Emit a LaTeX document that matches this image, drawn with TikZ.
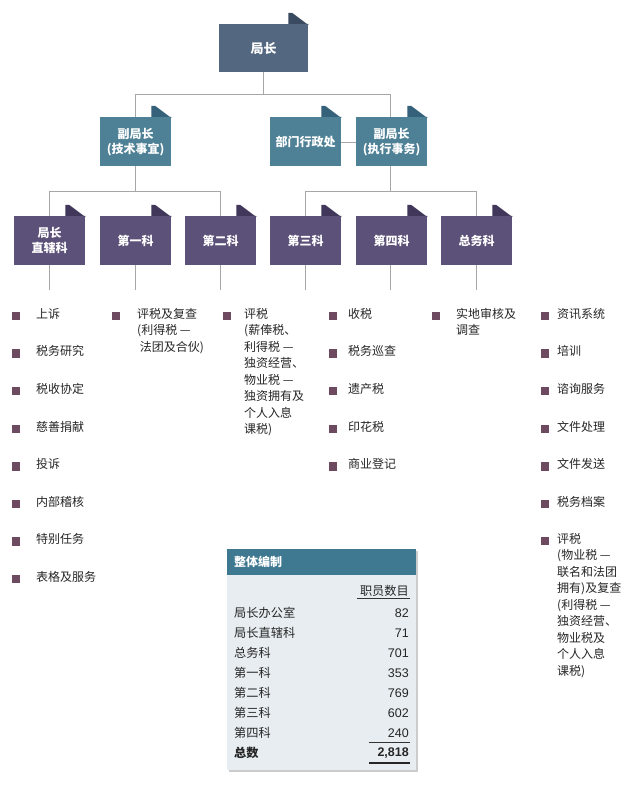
\documentclass[tikz,border=0pt]{standalone}
\usepackage{fontspec}
\setmainfont{Noto Sans CJK SC}
\newfontfamily\numfont{Liberation Sans}
\begin{document}
\begin{tikzpicture}[x=1pt,y=-1pt,
  ln/.style={draw=black!35,line width=0.8pt},
  bx/.style={minimum width=71pt,minimum height=49pt,inner sep=0pt,text=white,align=center,font=\bfseries\fontsize{12}{15}\selectfont,anchor=north west},
  topbx/.style={bx,fill=topc,minimum width=89pt,minimum height=48pt},
  tealbx/.style={bx,fill=tealc},
  purbx/.style={bx,fill=purc},
  bul/.style={fill=bulc,minimum size=8.5pt,inner sep=0pt},
  itm/.style={anchor=north west,inner sep=0pt,align=left,font=\fontsize{12}{16.5}\selectfont,text=black!85},
  tb/.style={anchor=west,inner sep=0pt,font=\fontsize{12.2}{14}\selectfont,text=black!85},
  tn/.style={anchor=east,inner sep=0pt,font=\numfont\fontsize{12.5}{14}\selectfont,text=black!85}]
\definecolor{topc}{HTML}{536780}
\definecolor{topf}{HTML}{3A4A60}
\definecolor{tealc}{HTML}{4F8196}
\definecolor{tealf}{HTML}{35627A}
\definecolor{purc}{HTML}{5C5179}
\definecolor{purf}{HTML}{40375A}
\definecolor{bulc}{HTML}{6E4A60}
\definecolor{hdc}{HTML}{3F7891}
\definecolor{tbg}{HTML}{E7EDF1}
\useasboundingbox (0,0) rectangle (639,786);
\fill[white] (0,0) rectangle (639,786);
% connectors
\draw[ln] (263.5,72) -- (263.5,94);
\draw[ln] (135,117) |- (390,94) -- (390,117);
\draw[ln] (135,166) -- (135,191);
\draw[ln] (49,216) |- (220,191) -- (220,216);
\draw[ln] (390,166) -- (390,191);
\draw[ln] (305,216) |- (476,191) -- (476,216);
\draw[ln] (341,142) -- (356,142);
\foreach \x in {49,135,220,305,390,476} \draw[ln] (\x,265) -- (\x,290);
% boxes
\node[topbx,font=\bfseries\fontsize{13}{15}\selectfont] (top) at (219,24) {局长};
\node[tealbx] (v1) at (100,117) {副局长\\(技术事宜)};
\node[tealbx] (adm) at (270,117) {部门行政处};
\node[tealbx] (v2) at (356,117) {副局长\\(执行事务)};
\node[purbx] (d0) at (14,216) {局长\\直辖科};
\node[purbx] (d1) at (100,216) {第一科};
\node[purbx] (d2) at (185,216) {第二科};
\node[purbx] (d3) at (270,216) {第三科};
\node[purbx] (d4) at (356,216) {第四科};
\node[purbx] (d5) at (441,216) {总务科};
\foreach \n/\c in {top/topf,v1/tealf,adm/tealf,v2/tealf,d0/purf,d1/purf,d2/purf,d3/purf,d4/purf,d5/purf}
  \fill[\c] ([xshift=-20pt]\n.north east) -- ++(0,-11) -- ++(4,0) -- ([yshift=-1pt]\n.north east) -- (\n.north east) -- cycle;
% lists
\foreach \i/\t in {0/上诉,1/税务研究,2/税收协定,3/慈善捐献,4/投诉,5/内部稽核,6/特别任务,7/表格及服务}{
  \node[bul] (b0\i) at (16,316+37.6*\i) {};
  \node[itm] (t0\i) at (36,308+37.6*\i) {\t};}
\node[bul] (b1) at (116,316) {};
\node[itm] (t1) at (137,308) {评税及复查\\(利得税 —\\\ 法团及合伙)};
\node[bul] (b2) at (227,316) {};
\node[itm] (t2) at (244,308) {评税\\(薪俸税、\\利得税 —\\独资经营、\\物业税 —\\独资拥有及\\个人入息\\课税)};
\foreach \i/\t in {0/收税,1/税务巡查,2/遗产税,3/印花税,4/商业登记}{
  \node[bul] (b3\i) at (333,316+37.6*\i) {};
  \node[itm] (t3\i) at (348,308+37.6*\i) {\t};}
\node[bul] (b4) at (436,316) {};
\node[itm] (t4) at (456,308) {实地审核及\\调查};
\foreach \i/\t in {0/资讯系统,1/培训,2/谘询服务,3/文件处理,4/文件发送,5/税务档案}{
  \node[bul] (b5\i) at (545,316+37.6*\i) {};
  \node[itm] (t5\i) at (557,308+37.6*\i) {\t};}
\node[bul] (b56) at (545,541) {};
\node[itm] (t56) at (557,533) {评税\\(物业税 —\\联名和法团\\拥有)及复查\\(利得税 —\\独资经营、\\物业税及\\个人入息\\课税)};
% table
\fill[black!20] (229,551) rectangle (418,772);
\fill[tbg] (227,549) rectangle (416,770);
\fill[hdc] (227,549) rectangle (416,575);
\node[anchor=west,inner sep=0pt,text=white,font=\bfseries\fontsize{12}{14}\selectfont] (th) at (234,562) {整体编制};
\node[anchor=east,inner sep=0pt,font=\fontsize{12.2}{14}\selectfont,text=black!85] (tcol) at (409,591) {职员数目};
\draw[black!80,line width=0.7pt] (357,598.5) -- (410,598.5);
\foreach \i/\a/\b in {0/局长办公室/82,1/局长直辖科/71,2/总务科/701,3/第一科/353,4/第二科/769,5/第三科/602,6/第四科/240}{
  \node[tb] (ra\i) at (234,613+20*\i) {\a};
  \node[tn] (rb\i) at (409,613+20*\i) {\b};}
\draw[black!80,line width=0.7pt] (369,742) -- (410,742);
\node[tb,font=\bfseries\fontsize{12.2}{14}\selectfont] (tot) at (234,753) {总数};
\node[tn,font=\numfont\bfseries\fontsize{12.5}{14}\selectfont] (totn) at (409,753) {2,818};
\draw[black!85,line width=1.4pt] (369,763) -- (410,763);
\end{tikzpicture}
\end{document}
